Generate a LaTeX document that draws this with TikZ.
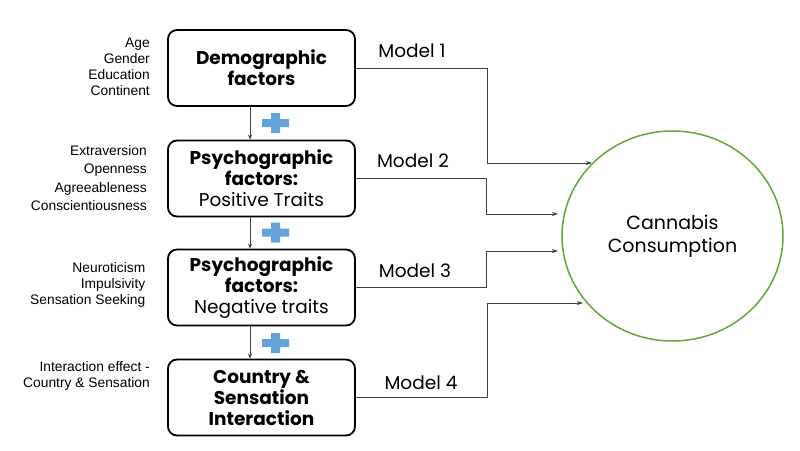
\documentclass[tikz,border=0pt]{standalone}
\usepackage{fontspec}
\setmainfont{Poppins}
\newfontfamily\arialfont{Liberation Sans}
\usetikzlibrary{positioning,arrows.meta,shapes.geometric}
\definecolor{plusblue}{HTML}{64A2DA}
\definecolor{ringgreen}{HTML}{62A63C}
\begin{document}
\begin{tikzpicture}[x=1pt,y=-1pt,
	factor/.style={draw,line width=1.8pt,rounded corners=9pt,minimum width=187pt,minimum height=76pt,inner sep=0pt,align=center,font=\fontsize{18.5}{21}\selectfont},
	var/.style={anchor=east,align=right,inner sep=0pt,font=\arialfont\fontsize{13.8}{16}\selectfont},
	model/.style={inner sep=0pt,font=\fontsize{18.5}{20}\selectfont},
	link/.style={draw=black!75,line width=0.8pt,-{Stealth[length=6pt,width=4pt]}}]
	\useasboundingbox (0,0) rectangle (800,450);
	\node[factor] (dem) at (261.5,68) {\textbf{Demographic}\\\textbf{factors}};
	\node[factor] (pos) at (261.5,178.5) {\textbf{Psychographic}\\\textbf{factors:}\\Positive Traits};
	\node[factor] (neg) at (261.5,287.5) {\textbf{Psychographic}\\\textbf{factors:}\\Negative traits};
	\node[factor] (inter) at (261.5,397.5) {\textbf{Country \&}\\\textbf{Sensation}\\\textbf{Interaction}};
	\node[var] (demvars) at (150,67) {Age\\Gender\\Education\\Continent};
	\node[var,font=\arialfont\fontsize{13.8}{18.3}\selectfont] (posvars) at (147,178) {Extraversion\\Openness\\Agreeableness\\Conscientiousness};
	\node[var] (negvars) at (145.5,284.5) {Neuroticism\\Impulsivity\\Sensation Seeking};
	\node[var] (intervars) at (150,375.5) {Interaction effect -\\Country \& Sensation};
	\draw[link,line width=0.6pt,-{Stealth[length=5pt,width=4pt]}] ([xshift=-11.5pt]dem.south) -- ([xshift=-11.5pt]pos.north);
	\draw[link,line width=0.6pt,-{Stealth[length=5pt,width=4pt]}] ([xshift=-11.5pt]pos.south) -- ([xshift=-11.5pt]neg.north);
	\draw[link,line width=0.6pt,-{Stealth[length=5pt,width=4pt]}] ([xshift=-11.5pt]neg.south) -- ([xshift=-11.5pt]inter.north);
	\foreach \y in {123,232.5,343}
		\fill[plusblue] (262,\y-4) rectangle (289,\y+4) (271,\y-10) rectangle (280,\y+10);
	\node[ellipse,draw=ringgreen,line width=1.5pt,minimum width=221pt,minimum height=210pt,inner sep=0pt,align=center,font=\fontsize{19}{23}\selectfont] (cons) at (672.5,236) {Cannabis\\Consumption};
	\coordinate (e1) at (592,163);
	\coordinate (e2) at (558,214);
	\coordinate (e3) at (558,251);
	\coordinate (e4) at (583,303);
	\draw[link] (dem.east) -- ++(131,0) |- (e1);
	\draw[link] (pos.east) -- ++(130,0) |- (e2);
	\draw[link] (neg.east) -- ++(130,0) |- (e3);
	\draw[link] (inter.east) -- ++(131,0) |- (e4);
	\node[model] (m1) at (412,51) {Model 1};
	\node[model] (m2) at (413,161) {Model 2};
	\node[model] (m3) at (415,270.5) {Model 3};
	\node[model] (m4) at (421,383) {Model 4};
\end{tikzpicture}
\end{document}
